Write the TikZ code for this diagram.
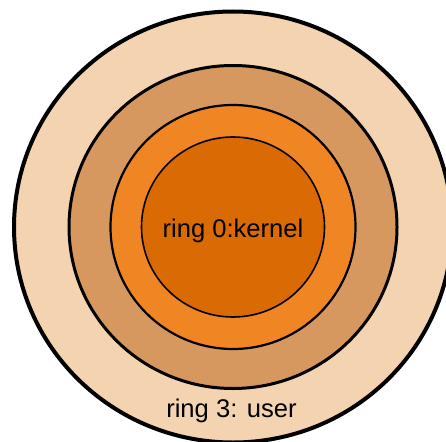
\documentclass[tikz,border=0pt]{standalone}
\usepackage{fontspec}
\setmainfont{Liberation Sans}
\usepackage{tikz}
\definecolor{userfill}{HTML}{F4D3B0}
\definecolor{ringtwo}{HTML}{D6985F}
\definecolor{ringone}{HTML}{EF8523}
\definecolor{kernelfill}{HTML}{DA6A04}

\begin{document}
\begin{tikzpicture}[x=1pt,y=-1pt]
    \useasboundingbox (0,0) rectangle (446,441);
    \coordinate (O) at (233,227);
    
    \draw[fill=userfill, line width=4pt] (O) ellipse (219 and 215.5); 
    \draw[fill=ringtwo, line width=3pt] (O) ellipse (164 and 161.5); 
    \draw[fill=ringone, line width=2.2pt] (O) ellipse (122.5 and 122); 
    \draw[fill=kernelfill, line width=1.6pt] (O) ellipse (91.5 and 90); 
    
    \node[font=\fontsize{25.6}{30}\selectfont, anchor=base, inner sep=0pt] (Kernel) at (233,237) {ring 0:kernel};
    \node[font=\fontsize{25.6}{30}\selectfont, anchor=base, inner sep=0pt] (User) at (231.5,417.5) {ring 3: user};
\end{tikzpicture}
\end{document}
